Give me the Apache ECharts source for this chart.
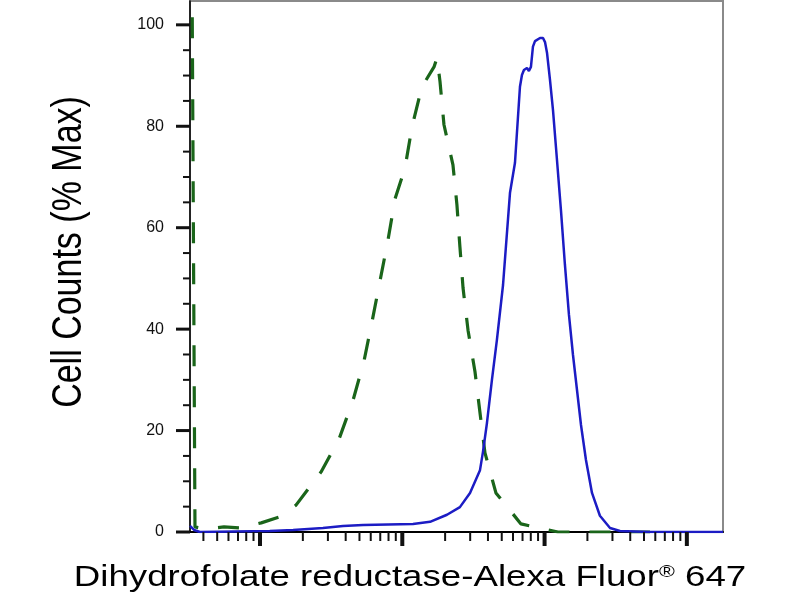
<!DOCTYPE html>
<html>
<head>
<meta charset="utf-8">
<script src="https://cdn.jsdelivr.net/npm/echarts@6/dist/echarts.min.js"></script>
<style>
html,body{margin:0;padding:0;background:#fff;}
#chart{width:800px;height:600px;}
</style>
</head>
<body>
<div id="chart"></div>
<script>
// Axis extents (fluorescence intensity, log scale; % of max)
const X_MIN = 32.2, X_MAX = 179500;
const Y_MIN = 0, Y_MAX = 104.7;

// Tick values
const xMajorTicks = [100, 1000, 10000, 100000];
const xMinorTicks = [40, 50, 60, 70, 80, 90,
  200, 300, 400, 500, 600, 700, 800, 900,
  2000, 3000, 4000, 5000, 6000, 7000, 8000, 9000,
  20000, 30000, 40000, 50000, 60000, 70000, 80000, 90000];
const yMajorTicks = [0, 20, 40, 60, 80, 100];
const yMinorTicks = [5, 10, 15, 25, 30, 35, 45, 50, 55, 65, 70, 75, 85, 90, 95];

// Stained sample (blue solid)
const blueX = [32.2, 34.4, 37.8, 117, 171, 277, 383, 530, 1189, 1567, 2061, 2541, 2992, 3516, 3690, 3936, 4266, 4624, 5105, 5715, 6194, 6714, 6934, 7161, 7520, 7762, 8020, 8285, 8565, 9290, 9750, 10070, 10400, 10910, 11460, 12220, 13030, 13900, 14840, 15840, 16900, 18030, 19540, 21540, 24490, 28840, 33880, 55080, 179500];
const blueY = [1.2, 0.4, 0, 0.2, 0.4, 0.8, 1.2, 1.4, 1.6, 2.0, 3.4, 4.9, 7.7, 12.2, 15.8, 21.5, 30.0, 37.9, 48.7, 66.9, 72.8, 87.8, 90.1, 91.1, 91.5, 90.9, 91.7, 95.7, 96.8, 97.4, 97.4, 96.6, 94.5, 89.2, 83.2, 73.4, 63.5, 52.7, 42.8, 34.9, 28.0, 21.1, 14.2, 7.7, 3.2, 0.8, 0.2, 0, 0];

// Control (green dashed)
const greenX = [32.7, 34.9, 41.0, 55.8, 72.3, 102, 138, 179, 268, 359, 451, 538, 612, 697, 794, 889, 1045, 1170, 1374, 1671, 1754, 1841, 1963, 2270, 2421, 2541, 2673, 2897, 3243, 3516, 3811, 4550, 6823, 12420, 55080];
const greenY = [150, 1.0, 0.6, 1.0, 0.8, 1.8, 3.0, 5.3, 11.8, 18.3, 26.0, 33.7, 41.4, 49.5, 57.6, 65.7, 71.8, 79.9, 87.8, 91.7, 93.5, 88.8, 80.3, 72.4, 64.5, 56.2, 48.1, 39.8, 31.6, 23.5, 15.6, 7.7, 1.6, 0, 0];

const xTitle = 'Dihydrofolate reductase-Alexa Fluor';
const xTitleMark = '®';
const xTitleTail = ' 647';
const yTitle = 'Cell Counts (% Max)';

const tickData = [];
xMajorTicks.forEach(v => tickData.push([v, Y_MIN, 0]));
xMinorTicks.forEach(v => tickData.push([v, Y_MIN, 1]));
yMajorTicks.forEach(v => tickData.push([X_MIN, v, 2]));
yMinorTicks.forEach(v => tickData.push([X_MIN, v, 3]));

const chart = echarts.init(document.getElementById('chart'), null, {renderer: 'canvas'});
const FONT = "'Liberation Sans', Arial, Helvetica, sans-serif";

chart.setOption({
  animation: false,
  backgroundColor: '#ffffff',
  grid: {
    left: 190, right: 77, top: 1, bottom: 68,
    show: true, borderColor: '#8a8a8a', borderWidth: 2, backgroundColor: 'transparent'
  },
  xAxis: {
    type: 'log', logBase: 10, min: X_MIN, max: X_MAX,
    axisLine: {show: true, lineStyle: {color: '#000', width: 2}},
    axisTick: {show: false},
    axisLabel: {show: false},
    splitLine: {show: false},
    minorTick: {show: false}
  },
  yAxis: {
    type: 'value', min: Y_MIN, max: Y_MAX, interval: 20,
    axisLine: {show: true, lineStyle: {color: '#000', width: 1.5}},
    axisTick: {show: false},
    splitLine: {show: false},
    axisLabel: {
      show: true, margin: 26, fontSize: 16, color: '#111', fontFamily: FONT,
      formatter: v => (yMajorTicks.indexOf(v) >= 0 ? String(v) : '')
    }
  },
  series: [
    {
      name: 'Control', type: 'line', showSymbol: false, symbol: 'none',
      data: greenX.map((x, i) => [x, greenY[i]]),
      lineStyle: {color: '#1a651a', width: 3.2, type: [21, 20]},
      z: 3
    },
    {
      name: 'Dihydrofolate reductase', type: 'line', showSymbol: false, symbol: 'none',
      data: blueX.map((x, i) => [x, blueY[i]]),
      lineStyle: {color: '#1c1cc4', width: 2.5},
      z: 4
    },
    {
      name: 'ticks', type: 'custom', clip: false, silent: true, z: 5,
      data: tickData,
      encode: {x: 0, y: 1},
      renderItem: function (params, api) {
        const p = api.coord([api.value(0), api.value(1)]);
        const k = api.value(2);
        let shape, lw;
        if (k === 0) { shape = {x1: p[0], y1: p[1], x2: p[0], y2: p[1] + 14}; lw = 4; }
        else if (k === 1) { shape = {x1: p[0], y1: p[1], x2: p[0], y2: p[1] + 9}; lw = 2; }
        else if (k === 2) { shape = {x1: p[0], y1: p[1], x2: p[0] - 14, y2: p[1]}; lw = 3; }
        else { shape = {x1: p[0], y1: p[1], x2: p[0] - 7, y2: p[1]}; lw = 2; }
        return {type: 'line', shape: shape, style: {stroke: '#111', lineWidth: lw}};
      }
    }
  ],
  graphic: [
    {
      type: 'text', x: 410, y: 578, scaleX: 1.265, scaleY: 1,
      style: {
        text: '{a|' + xTitle + '}{r|' + xTitleMark + '}{a|' + xTitleTail + '}',
        align: 'center', verticalAlign: 'middle', fill: '#000',
        rich: {
          a: {fontSize: 29, fontFamily: FONT, fill: '#000'},
          r: {fontSize: 17, fontFamily: FONT, fill: '#000', verticalAlign: 'top'}
        }
      }
    },
    {
      type: 'text', x: 69, y: 252, rotation: Math.PI / 2, scaleX: 1, scaleY: 1.26,
      style: {
        text: yTitle, fontSize: 34, fontFamily: FONT, fill: '#000',
        align: 'center', verticalAlign: 'middle'
      }
    }
  ]
});
</script>
</body>
</html>
